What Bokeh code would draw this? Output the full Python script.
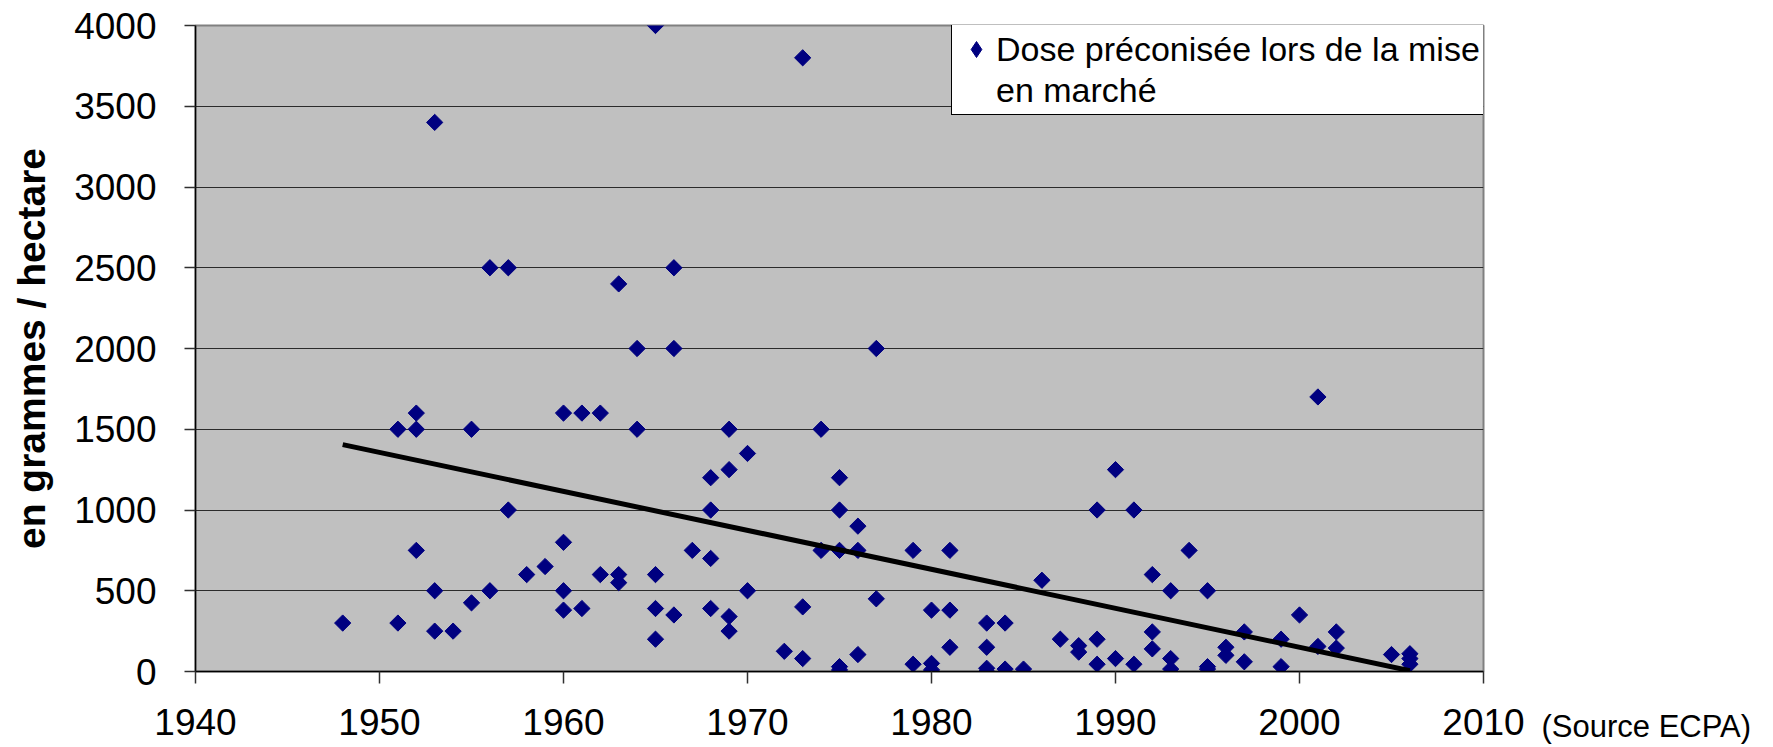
import math
from bokeh.plotting import figure
from bokeh.models import Legend, LegendItem, Label, FixedTicker, Range1d
from bokeh.embed import file_html
from bokeh.resources import INLINE

# ---- data ----
years = [1948,
         1951, 1951,
         1952, 1952, 1952,
         1953, 1953, 1953,
         1954,
         1955, 1955,
         1956, 1956,
         1957, 1957,
         1958, 1959,
         1960, 1960, 1960, 1960,
         1961, 1961,
         1962, 1962,
         1963, 1963, 1963,
         1964, 1964,
         1965, 1965, 1965, 1965,
         1966, 1966, 1966,
         1967,
         1968, 1968, 1968, 1968,
         1969, 1969, 1969, 1969,
         1970, 1970,
         1972,
         1973, 1973, 1973,
         1974, 1974,
         1975, 1975, 1975, 1975, 1975,
         1976, 1976, 1976,
         1977, 1977,
         1979, 1979,
         1980, 1980, 1980,
         1981, 1981, 1981,
         1983, 1983, 1983, 1983,
         1984, 1984,
         1985, 1986, 1987,
         1988, 1988,
         1989, 1989, 1989,
         1990, 1990,
         1991, 1991,
         1992, 1992, 1992,
         1993, 1993, 1993,
         1994,
         1995, 1995, 1995,
         1996, 1996,
         1997, 1997,
         1999, 1999,
         2000,
         2001, 2001,
         2002, 2002,
         2005,
         2006, 2006, 2006]
doses = [300,
         300, 1500,
         1600, 1500, 750,
         3400, 500, 250,
         250,
         1500, 425,
         2500, 500,
         2500, 1000,
         600, 650,
         1600, 800, 500, 380,
         1600, 390,
         1600, 600,
         2400, 600, 550,
         2000, 1500,
         4000, 600, 390, 200,
         2500, 2000, 350,
         750,
         1200, 1000, 700, 390,
         1500, 1250, 340, 250,
         1350, 500,
         125,
         3800, 400, 80,
         1500, 750,
         1200, 1000, 750, 30, 10,
         900, 750, 105,
         2000, 450,
         750, 45,
         380, 50, 10,
         750, 380, 150,
         300, 150, 20, 0,
         300, 15,
         15, 565, 200,
         160, 120,
         1000, 200, 45,
         1250, 80,
         1000, 45,
         600, 245, 140,
         500, 80, 15,
         750,
         500, 30, 15,
         150, 100,
         245, 60,
         200, 30,
         350,
         1700, 155,
         245, 145,
         105,
         110, 80, 45]

trend_years = [1948, 2006]
trend_doses = [1405, 5]

x_ticks = [1940, 1950, 1960, 1970, 1980, 1990, 2000, 2010]
y_ticks = [0, 500, 1000, 1500, 2000, 2500, 3000, 3500, 4000]

series_label_1 = "Dose préconisée lors de la mise"
series_label_2 = "en marché"
y_title = "en grammes / hectare"
source_note = "(Source ECPA)"

FONT = "Liberation Sans"
NAVY = "#000080"

p = figure(width=1773, height=747, output_backend="svg", toolbar_location=None,
           x_range=Range1d(1940, 2010), y_range=Range1d(0, 4000),
           min_border_left=195, min_border_right=290,
           min_border_top=25, min_border_bottom=76)

p.background_fill_color = "#C0C0C0"
p.border_fill_color = "white"
p.outline_line_color = "#808080"
p.outline_line_width = 2

p.xgrid.grid_line_color = None
p.ygrid.grid_line_color = "#2b2b2b"
p.ygrid.grid_line_width = 1

p.xaxis.ticker = FixedTicker(ticks=x_ticks)
p.yaxis.ticker = FixedTicker(ticks=y_ticks)
for ax in (p.xaxis, p.yaxis):
    ax.minor_tick_line_color = None
    ax.major_tick_in = 0
    ax.axis_line_color = "black"
    ax.axis_line_width = 1.5
    ax.major_tick_line_color = "#303030"
    ax.major_tick_line_width = 1.5
    ax.major_label_text_font = FONT
    ax.major_label_text_font_size = "37px"
    ax.major_label_text_color = "black"

p.xaxis.major_tick_out = 12
p.xaxis.major_label_standoff = 25
p.yaxis.major_tick_out = 11
p.yaxis.major_label_standoff = 28

p.yaxis.axis_label = y_title
p.yaxis.axis_label_text_font = FONT
p.yaxis.axis_label_text_font_style = "bold"
p.yaxis.axis_label_text_font_size = "39px"
p.yaxis.axis_label_text_color = "black"
p.yaxis.axis_label_standoff = 18

pts = p.scatter(years, doses, marker="square", angle=math.pi / 4, size=11.5,
                fill_color=NAVY, line_color=NAVY)
p.line(trend_years, trend_doses, line_color="black", line_width=5)

# legend swatch (diamond, hidden in the plot) and blank entry for the wrapped second line
swatch = p.scatter(years, doses, marker="diamond", fill_color=NAVY, line_color=NAVY)
swatch.visible = False
blank = p.scatter([], [], marker="square", fill_alpha=0, line_alpha=0)

legend = Legend(items=[LegendItem(label=series_label_1, renderers=[swatch]),
                       LegendItem(label=series_label_2, renderers=[blank])],
                location=(756, 556))
legend.padding = 4
legend.spacing = 1
legend.glyph_width = 40
legend.glyph_height = 40
legend.label_standoff = 0
legend.label_text_font = FONT
legend.label_text_font_size = "34px"
legend.label_text_color = "black"
legend.border_line_color = "black"
legend.border_line_width = 1.5
legend.border_line_alpha = 1
legend.background_fill_color = "white"
legend.background_fill_alpha = 1
legend.inactive_fill_alpha = 0
p.add_layout(legend, "center")

p.add_layout(Label(x=2010, y=0, x_offset=58, y_offset=-55, text=source_note,
                   text_font=FONT, text_font_size="31px", text_color="black",
                   text_align="left", text_baseline="middle"), "right")

open("out.html", "w").write(file_html(p, INLINE))
